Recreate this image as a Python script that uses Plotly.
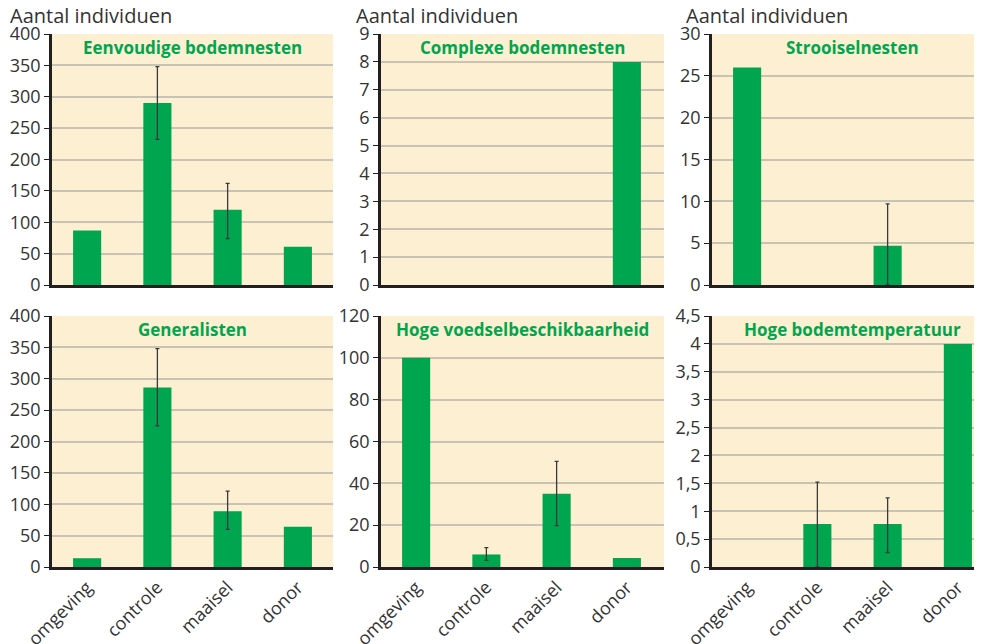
import plotly.graph_objects as go

# page body has an 8px default margin; work in window pixels and convert
OFF = 8
W, H = 982 - OFF, 644 - OFF

categories = ["omgeving", "controle", "maaisel", "donor"]

titles = ["Eenvoudige bodemnesten", "Complexe bodemnesten", "Strooiselnesten",
          "Generalisten", "Hoge voedselbeschikbaarheid", "Hoge bodemtemperatuur"]

eenvoudig = [87, 290, 120, 61]
eenvoudig_plus = [None, 58, 42, None]
eenvoudig_minus = [None, 58, 46, None]

complex_ = [0, 0, 0, 8]
complex_plus = [None, None, None, None]
complex_minus = [None, None, None, None]

strooisel = [26, 0, 4.7, 0]
strooisel_plus = [None, None, 5.0, None]
strooisel_minus = [None, None, 4.7, None]

generalisten = [14, 286, 89, 64]
generalisten_plus = [None, 62, 32, None]
generalisten_minus = [None, 61, 29, None]

voedsel = [100, 6, 35, 4.3]
voedsel_plus = [None, 3.3, 15.5, None]
voedsel_minus = [None, 2.8, 15.2, None]

bodemtemp = [0, 0.77, 0.77, 4.0]
bodemtemp_plus = [None, 0.75, 0.47, None]
bodemtemp_minus = [None, 0.77, 0.51, None]

y_max = [400, 9, 30, 400, 120, 4.5]
y_dtick = [50, 1, 5, 50, 20, 0.5]

series = [
    (eenvoudig, eenvoudig_plus, eenvoudig_minus),
    (complex_, complex_plus, complex_minus),
    (strooisel, strooisel_plus, strooisel_minus),
    (generalisten, generalisten_plus, generalisten_minus),
    (voedsel, voedsel_plus, voedsel_minus),
    (bodemtemp, bodemtemp_plus, bodemtemp_minus),
]

# pixel geometry of panels (window pixels)
col_px = [(52, 333), (381, 664), (712, 982)]
row_px = [(34, 285), (316, 567)]
cat_px = 70.25


def fx(px):
    return (px - OFF) / W


def fy(px):
    return 1 - (px - OFF) / H


GREEN = "#00a54f"
CREAM = "#fdf0d2"
GRID = "#c9c3b5"
AXIS = "#231f20"
TXT = "#333333"
FONT = "Open Sans"

fig = go.Figure()
layout = dict(
    width=W, height=H, margin=dict(l=0, r=0, t=0, b=0, autoexpand=False),
    paper_bgcolor="white", plot_bgcolor=CREAM, showlegend=False,
    separators=", ", font=dict(family=FONT, color=TXT, size=17),
)
annotations = []

for i, (vals, plus, minus) in enumerate(series):
    r, c = divmod(i, 3)
    x0, x1 = col_px[c]
    yt, yb = row_px[r]
    n = i + 1
    xa = "xaxis" if n == 1 else f"xaxis{n}"
    ya = "yaxis" if n == 1 else f"yaxis{n}"
    xr = "x" if n == 1 else f"x{n}"
    yr = "y" if n == 1 else f"y{n}"
    xs = list(range(len(categories)))
    fig.add_trace(go.Bar(
        x=xs, y=vals, width=0.4,
        marker=dict(color=GREEN, line=dict(width=0)),
        xaxis=xr, yaxis=yr,
    ))
    ex = [xs[k] for k in range(len(xs)) if plus[k] is not None]
    if ex:
        fig.add_trace(go.Scatter(
            x=ex, y=[vals[k] for k in ex], mode="markers",
            marker=dict(size=0.1, opacity=0),
            error_y=dict(type="data", symmetric=False,
                         array=[plus[k] for k in ex],
                         arrayminus=[minus[k] for k in ex],
                         color="#3a3a3a", thickness=1.3, width=2),
            xaxis=xr, yaxis=yr, cliponaxis=False,
        ))
    upper = -0.5 + (x1 - x0) / cat_px
    layout[xa] = dict(
        domain=[fx(x0), min(1.0, fx(x1))], anchor=yr, range=[-0.5, upper],
        tickmode="array", tickvals=xs,
        ticktext=categories if r == 1 else [""] * 4,
        showticklabels=(r == 1), tickangle=-45,
        ticks="", showgrid=False, zeroline=False, automargin=False,
        showline=True, linecolor=AXIS, linewidth=2.5,
        tickfont=dict(size=18, color=TXT, family=FONT),
        fixedrange=True,
    )
    layout[ya] = dict(
        domain=[fy(yb), fy(yt)], anchor=xr, range=[0, y_max[i]],
        dtick=y_dtick[i], tick0=0, ticks="outside", ticklen=5, tickwidth=1,
        tickcolor=AXIS, showgrid=True, gridcolor=GRID, gridwidth=2,
        zeroline=False, showline=True, linecolor=AXIS, linewidth=2.5,
        automargin=False,
        tickfont=dict(size=18, color=TXT, family=FONT),
        fixedrange=True,
    )
    cx = (x0 + x1) / 2 if c < 2 else (712 + 993) / 2
    annotations.append(dict(
        text=f"<b>{titles[i]}</b>", xref="paper", yref="paper",
        x=fx(cx), y=fy(yt + 13), xanchor="center", yanchor="middle",
        showarrow=False,
        font=dict(size=17, color=GREEN, family=FONT),
    ))

for x in [8, 354, 684]:
    annotations.append(dict(
        text="Aantal individuen", xref="paper", yref="paper",
        x=fx(x), y=fy(16), xanchor="left", yanchor="middle", showarrow=False,
        font=dict(size=20, color=TXT, family=FONT),
    ))

layout["annotations"] = annotations
fig.update_layout(**layout)
fig.write_html("out.html")
